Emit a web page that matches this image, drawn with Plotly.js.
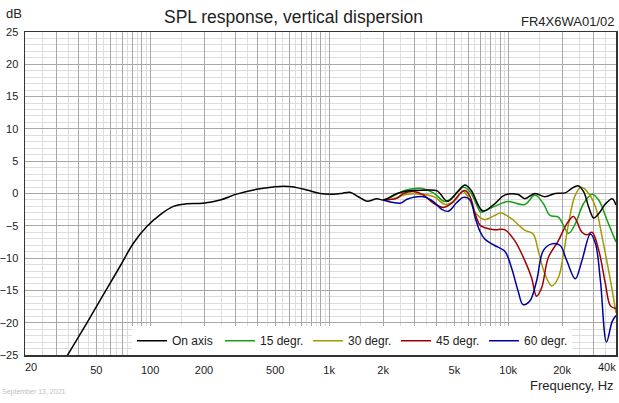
<!DOCTYPE html>
<html>
<head>
<meta charset="utf-8">
<script src="https://cdn.plot.ly/plotly-3.0.1.min.js"></script>
<style>
  html, body { margin: 0; padding: 0; background: #fff; }
  #chart { width: 619px; height: 403px; }
</style>
</head>
<body>
<div id="chart"></div>
<script>
// ---- Data ----
const onAxisFreq = [20, 25, 30, 34.6, 44.2, 54.7, 67.8, 80.6, 95.8, 113.6, 134.8, 160, 196, 246, 304, 394, 532, 618, 750, 890, 1057, 1170, 1306, 1456, 1624, 1846, 2011, 2394, 2723, 3388, 4006, 4580, 5218, 5736, 6204, 7216, 8396, 9548, 11358, 12382, 14096, 16044, 18268, 20780, 22700, 24500, 26360, 28160, 30040, 32080, 34940, 38100, 40000];
const onAxisDb   = [-36, -31.5, -28, -25, -20.1, -15.7, -11.3, -7.7, -5.1, -3.3, -2.0, -1.6, -1.5, -1.0, -0.1, 0.65, 1.1, 1.05, 0.55, 0.0, -0.1, 0.0, 0.2, -0.5, -1.2, -0.8, -1.0, 0.0, 0.4, 0.5, 0.4, -1.2, 0.3, 1.3, 0.5, -2.7, -1.6, -0.25, -0.15, -0.8, 0.0, -0.5, 0.0, 0.1, 0.8, 1.2, 0.3, -2.1, -3.8, -3.1, -1.6, -0.8, -1.8];

const deg15Freq = [2011, 2282, 2596, 3232, 3820, 4440, 5052, 5618, 6126, 6966, 7100, 7920, 8396, 10000, 12382, 14096, 15700, 17116, 19070, 21720, 23680, 26360, 29380, 32080, 35720, 40000];
const deg15Db   = [-1.0, -0.4, 0.4, 0.8, 0.1, -1.25, -0.2, 0.95, 0.25, -2.8, -2.9, -2.3, -2.0, -1.25, -1.7, -0.25, -1.55, -3.4, -3.65, -6.15, -4.7, -1.55, -0.1, -1.05, -4.2, -7.5];

const deg30Freq = [2011, 2282, 2723, 3240, 3854, 4460, 5100, 5574, 6034, 6618, 7372, 8396, 9150, 10420, 12382, 13780, 14720, 16044, 17500, 19070, 20360, 21720, 23680, 25600, 28160, 30740, 33460, 37260, 40000];
const deg30Db   = [-1.0, -0.8, -0.1, -0.1, -0.5, -1.7, -0.95, 0.4, -0.8, -3.1, -4.05, -3.4, -3.0, -3.9, -5.7, -6.25, -8.85, -12.5, -14.3, -13.0, -9.35, -4.7, -0.25, 0.95, 0.0, -2.1, -6.75, -13.5, -18.5];

const deg45Freq = [2011, 2380, 2596, 2952, 3358, 3820, 4344, 4840, 5384, 5740, 6126, 6532, 6966, 7430, 8396, 9548, 10870, 12382, 13490, 14400, 15370, 16750, 19070, 21240, 23160, 25800, 27500, 29380, 32080, 34940, 37260, 40000];
const deg45Db   = [-1.0, -0.75, 0.0, 0.3, -0.2, -1.5, -2.15, -1.5, 0.0, 0.45, -0.5, -3.1, -4.9, -5.3, -5.6, -5.6, -7.3, -10.4, -13.0, -15.9, -14.6, -9.9, -7.3, -4.7, -3.55, -6.0, -6.4, -6.0, -8.85, -14.05, -17.4, -17.8];

const deg60Freq = [2011, 2282, 2490, 2723, 2952, 3358, 3820, 4256, 4632, 5160, 5618, 6126, 6532, 6966, 7374, 8396, 9548, 10420, 11358, 12100, 13200, 14400, 15700, 17500, 19500, 21240, 23680, 25800, 28780, 30740, 32740, 35420, 38100, 40000];
const deg60Db   = [-1.0, -1.4, -1.5, -0.9, -0.6, -0.5, -1.25, -2.45, -2.75, -1.4, -0.6, -1.0, -3.7, -5.9, -7.0, -8.05, -8.9, -11.45, -15.1, -17.2, -16.65, -13.55, -8.85, -7.8, -8.05, -10.4, -13.2, -10.4, -6.25, -7.8, -13.5, -23.0, -19.8, -18.9];

const seriesNames = ['On axis', '15 degr.', '30 degr.', '45 degr.', '60 degr.'];

// x-axis grid / tick values
const xMajor = [20,30,40,50,60,70,80,90,100,200,300,400,500,600,700,800,900,1000,2000,3000,4000,5000,6000,7000,8000,9000,10000,20000,30000,40000];
const xLabelMap = {50:'50',100:'100',200:'200',500:'500',1000:'1k',2000:'2k',5000:'5k',10000:'10k',20000:'20k'};
const xMinor = [25,35,45,55,65,75,85,95,150,250,350,450,550,650,750,850,950,1500,2500,3500,4500,5500,6500,7500,8500,9500,15000,25000,35000];
const yTicks = [-25,-20,-15,-10,-5,0,5,10,15,20,25];

// ---- Plot ----
const FONT = '"Liberation Sans", Arial, "DejaVu Sans", sans-serif';
const mk = (x, y, name, color, rank) => ({
  x: x, y: y, name: name, type: 'scatter', mode: 'lines',
  line: {color: color, width: 1.5, shape: 'spline', smoothing: 1},
  legendrank: rank, hoverinfo: 'skip'
});

const traces = [
  mk(deg15Freq, deg15Db, seriesNames[1], '#16a016', 2),
  mk(deg30Freq, deg30Db, seriesNames[2], '#a09a00', 3),
  mk(deg45Freq, deg45Db, seriesNames[3], '#a00000', 4),
  mk(deg60Freq, deg60Db, seriesNames[4], '#0000a0', 5),
  mk(onAxisFreq, onAxisDb, seriesNames[0], '#000000', 1)
];

const layout = {
  width: 619, height: 403,
  margin: {l: 25, r: 3, t: 32, b: 48, pad: 0},
  paper_bgcolor: '#ffffff', plot_bgcolor: '#ffffff',
  font: {family: FONT, size: 11, color: '#222'},
  showlegend: true,
  legend: {
    orientation: 'h', x: 0.181, y: 0.089, xanchor: 'left', yanchor: 'top',
    bgcolor: '#ffffff', borderwidth: 0, font: {family: FONT, size: 12, color: '#222'},
    entrywidth: 43, entrywidthmode: 'pixels', itemwidth: 30,
    traceorder: 'normal'
  },
  xaxis: {
    type: 'log', range: [Math.log10(20), Math.log10(40000)],
    tickmode: 'array', tickvals: xMajor,
    ticktext: xMajor.map(v => xLabelMap[v] || ''),
    ticks: '', showgrid: true, gridcolor: '#a8a8a8', gridwidth: 1,
    minor: {tickmode: 'array', tickvals: xMinor, showgrid: true, gridcolor: '#dddddd', gridwidth: 1, ticks: ''},
    showline: true, mirror: true, linecolor: '#333', linewidth: 1.5,
    zeroline: false, tickfont: {family: FONT, size: 11, color: '#222'},
    ticklabelstandoff: 4, fixedrange: true
  },
  yaxis: {
    range: [-25, 25], tickmode: 'array', tickvals: yTicks,
    ticks: '', showgrid: true, gridcolor: '#a8a8a8', gridwidth: 1,
    minor: {dtick: 1, showgrid: true, gridcolor: '#dddddd', gridwidth: 1, ticks: ''},
    showline: true, mirror: true, linecolor: '#333', linewidth: 1.5,
    zeroline: false, tickfont: {family: FONT, size: 11, color: '#222'},
    ticklabelstandoff: 3, fixedrange: true
  },
  annotations: [
    {text: 'SPL response, vertical dispersion', xref: 'paper', yref: 'paper', x: 0.455, y: 1.046,
     xanchor: 'center', yanchor: 'middle', showarrow: false, font: {family: FONT, size: 17.5, color: '#222'}},
    {text: 'dB', xref: 'paper', yref: 'paper', x: -0.0186, y: 1.0588, xanchor: 'center', yanchor: 'middle',
     showarrow: false, font: {family: FONT, size: 13, color: '#222'}},
    {text: 'FR4X6WA01/02', xref: 'paper', yref: 'paper', x: 1.0, y: 1.034, xanchor: 'right', yanchor: 'middle',
     showarrow: false, font: {family: FONT, size: 13, color: '#222'}},
    {text: 'Frequency, Hz', xref: 'paper', yref: 'paper', x: 1.0, y: -0.0929, xanchor: 'right', yanchor: 'middle',
     showarrow: false, font: {family: FONT, size: 13, color: '#222'}},
    {text: 'September 13, 2021', xref: 'paper', yref: 'paper', x: -0.0423, y: -0.1146, xanchor: 'left', yanchor: 'middle',
     showarrow: false, font: {family: FONT, size: 7, color: '#c0c0c0'}},
    {text: '20', xref: 'paper', yref: 'paper', x: 0.0102, y: -0.037, xanchor: 'center', yanchor: 'middle',
     showarrow: false, font: {family: FONT, size: 11, color: '#222'}},
    {text: '40k', xref: 'paper', yref: 'paper', x: 0.985, y: -0.037, xanchor: 'center', yanchor: 'middle',
     showarrow: false, font: {family: FONT, size: 11, color: '#222'}}
  ]
};

Plotly.newPlot('chart', traces, layout, {staticPlot: true, displayModeBar: false});
</script>
</body>
</html>
